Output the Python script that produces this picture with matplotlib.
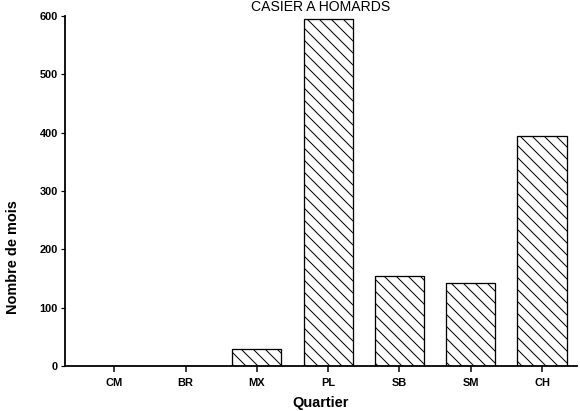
import matplotlib.pyplot as plt

# Nombre de mois par quartier, casier a homards
quartiers = ['CM', 'BR', 'MX', 'PL', 'SB', 'SM', 'CH']
nb_mois = [0, 0, 29, 595, 154, 142, 394]
yticks = [0, 100, 200, 300, 400, 500, 600]

plt.rcParams['font.family'] = ['Liberation Sans', 'DejaVu Sans']
plt.rcParams['hatch.linewidth'] = 1.0

DPI = 72
fig = plt.figure(figsize=(580 / DPI, 411 / DPI), dpi=DPI)
ax = fig.add_axes([65 / 580, 1 - 366 / 411, 512 / 580, 350 / 411])

x = list(range(len(quartiers)))
ax.bar(x, nb_mois, width=0.69, color='white', edgecolor='black',
       linewidth=1.3, hatch='\\\\')

ax.set_xlim(-0.69, 6.49)
ax.set_ylim(0, 600)
ax.set_xticks(x)
ax.set_xticklabels(quartiers, fontsize=11, fontweight='bold')
ax.set_yticks(yticks)
ax.set_yticklabels([str(v) for v in yticks], fontsize=11, fontweight='bold')

for side in ['top', 'right']:
    ax.spines[side].set_visible(False)
for side in ['left', 'bottom']:
    ax.spines[side].set_linewidth(1.8)
ax.tick_params(axis='x', length=6, width=1.5, pad=6)
ax.tick_params(axis='y', length=4, width=1.2, pad=3)

ax.set_xlabel('Quartier', fontsize=14.5, fontweight='bold')
ax.xaxis.set_label_coords(0.5, -0.085)
ax.set_ylabel('Nombre de mois', fontsize=14.5, fontweight='bold')
ax.yaxis.set_label_coords(-0.088, 0.31)

fig.text(0.552, 1 - 11 / 411, 'CASIER A HOMARDS', fontsize=14,
         ha='center', va='baseline')

fig.savefig('out.png', dpi=DPI, facecolor='white')
